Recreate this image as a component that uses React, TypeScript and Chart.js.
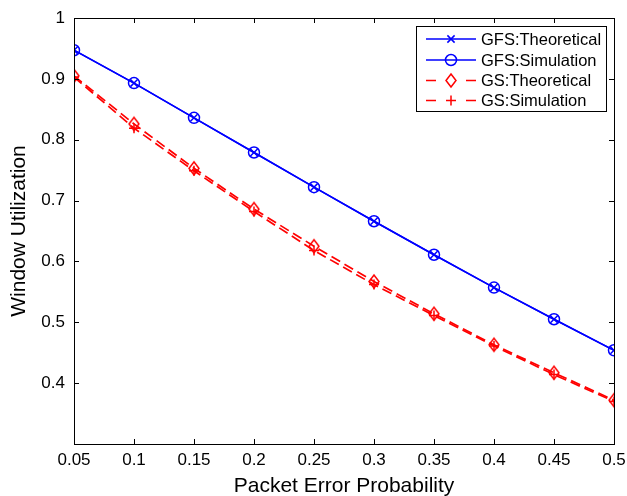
import React, { useEffect, useRef } from "react";
import { Chart, registerables } from "chart.js";

Chart.register(...registerables);

const xValues = [0.05, 0.1, 0.15, 0.2, 0.25, 0.3, 0.35, 0.4, 0.45, 0.5];
const gfsTheoretical = [0.947, 0.893, 0.836, 0.779, 0.722, 0.666, 0.611, 0.557, 0.505, 0.454];
const gfsSimulation = [0.947, 0.893, 0.836, 0.779, 0.722, 0.666, 0.611, 0.557, 0.505, 0.454];
const gsTheoretical = [0.905, 0.826, 0.753, 0.686, 0.625, 0.567, 0.514, 0.463, 0.417, 0.372];
const gsSimulation = [0.903, 0.819, 0.749, 0.682, 0.618, 0.562, 0.511, 0.461, 0.414, 0.37];
const xTicks = [0.05, 0.1, 0.15, 0.2, 0.25, 0.3, 0.35, 0.4, 0.45, 0.5];
const yTicks = [0.4, 0.5, 0.6, 0.7, 0.8, 0.9, 1];
const legendLabels = ["GFS:Theoretical", "GFS:Simulation", "GS:Theoretical", "GS:Simulation"];

const BLUE = "#0000ff";
const RED = "#ff0000";
const FONT = "'Liberation Sans', Arial, Helvetica, sans-serif";

function drawMarker(ctx: CanvasRenderingContext2D, kind: string, x: number, y: number, color: string) {
  ctx.save();
  ctx.strokeStyle = color;
  ctx.lineWidth = 1.5;
  ctx.setLineDash([]);
  ctx.beginPath();
  if (kind === "x") {
    const r = 3.6;
    ctx.moveTo(x - r, y - r); ctx.lineTo(x + r, y + r);
    ctx.moveTo(x - r, y + r); ctx.lineTo(x + r, y - r);
  } else if (kind === "o") {
    ctx.arc(x, y, 5.5, 0, Math.PI * 2);
  } else if (kind === "d") {
    ctx.moveTo(x, y - 6.5); ctx.lineTo(x + 5, y); ctx.lineTo(x, y + 6.5); ctx.lineTo(x - 5, y); ctx.closePath();
  } else if (kind === "+") {
    const r = 5;
    ctx.moveTo(x - r, y); ctx.lineTo(x + r, y);
    ctx.moveTo(x, y - r); ctx.lineTo(x, y + r);
  }
  ctx.stroke();
  ctx.restore();
}

function makeDiamond(): HTMLCanvasElement {
  const c = document.createElement("canvas");
  c.width = 14; c.height = 17;
  const ctx = c.getContext("2d")!;
  drawMarker(ctx, "d", 7, 8.5, RED);
  return c;
}

const boxPlugin = {
  id: "matlabBox",
  afterDatasetsDraw(chart: any) {
    const { ctx, chartArea } = chart;
    const { left, right, top, bottom } = chartArea;
    const xs = chart.scales.x;
    const ys = chart.scales.y;
    ctx.save();
    ctx.strokeStyle = "#000";
    ctx.lineWidth = 1;
    ctx.setLineDash([]);
    ctx.strokeRect(Math.round(left) + 0.5, Math.round(top) + 0.5, Math.round(right - left), Math.round(bottom - top));
    const tl = 5;
    ctx.beginPath();
    xTicks.forEach((v) => {
      const px = Math.round(xs.getPixelForValue(v)) + 0.5;
      ctx.moveTo(px, bottom); ctx.lineTo(px, bottom - tl);
      ctx.moveTo(px, top); ctx.lineTo(px, top + tl);
    });
    yTicks.forEach((v) => {
      const py = Math.round(ys.getPixelForValue(v)) + 0.5;
      ctx.moveTo(left, py); ctx.lineTo(left + tl, py);
      ctx.moveTo(right, py); ctx.lineTo(right - tl, py);
    });
    ctx.stroke();

    // legend
    const lx = 416.5, ly = 26.5, lw = 190, lh = 85;
    ctx.fillStyle = "#fff";
    ctx.fillRect(lx, ly, lw, lh);
    ctx.strokeRect(lx, ly, lw, lh);
    const rows = [39, 60, 80.5, 100.5];
    const kinds = ["x", "o", "d", "+"];
    const colors = [BLUE, BLUE, RED, RED];
    ctx.font = `16.5px ${FONT}`;
    ctx.textBaseline = "middle";
    ctx.textAlign = "left";
    rows.forEach((ry, i) => {
      ctx.strokeStyle = colors[i];
      ctx.lineWidth = 1.5;
      ctx.beginPath();
      if (i < 2) {
        ctx.moveTo(426, ry); ctx.lineTo(476, ry);
      } else {
        ctx.moveTo(426, ry); ctx.lineTo(436, ry);
        ctx.moveTo(466, ry); ctx.lineTo(476, ry);
      }
      ctx.stroke();
      drawMarker(ctx, kinds[i], 451, ry, colors[i]);
      ctx.fillStyle = "#000";
      ctx.fillText(legendLabels[i], 481, ry + 1);
    });
    ctx.restore();
  },
};

export default function App() {
  const ref = useRef<HTMLCanvasElement>(null);
  useEffect(() => {
    if (!ref.current) return;
    const diamond = makeDiamond();
    const toPts = (arr: number[]) => arr.map((y, i) => ({ x: xValues[i], y }));
    const chart = new Chart(ref.current, {
      type: "line",
      data: {
        datasets: [
          {
            label: legendLabels[0], data: toPts(gfsTheoretical), borderColor: BLUE, borderWidth: 1.5,
            pointStyle: "crossRot", pointRadius: 5, pointBorderWidth: 1.5, pointBorderColor: BLUE,
            pointBackgroundColor: "transparent", fill: false, tension: 0,
          },
          {
            label: legendLabels[1], data: toPts(gfsSimulation), borderColor: BLUE, borderWidth: 1.5,
            pointStyle: "circle", pointRadius: 5.5, pointBorderWidth: 1.5, pointBorderColor: BLUE,
            pointBackgroundColor: "transparent", fill: false, tension: 0,
          },
          {
            label: legendLabels[2], data: toPts(gsTheoretical), borderColor: RED, borderWidth: 1.7,
            borderDash: [10, 5], pointStyle: diamond as any, pointRadius: 6,
            pointBackgroundColor: "transparent", fill: false, tension: 0,
          },
          {
            label: legendLabels[3], data: toPts(gsSimulation), borderColor: RED, borderWidth: 1.7,
            borderDash: [10, 5], pointStyle: "cross", pointRadius: 5, pointBorderWidth: 1.5, pointBorderColor: RED,
            pointBackgroundColor: "transparent", fill: false, tension: 0,
          },
        ],
      },
      options: {
        animation: false,
        responsive: false,
        maintainAspectRatio: false,
        layout: { padding: { top: 18, right: 13, left: 0, bottom: 0 } },
        plugins: { legend: { display: false }, tooltip: { enabled: false } },
        scales: {
          x: {
            type: "linear",
            min: 0.05,
            max: 0.5,
            grid: { display: false, drawTicks: false },
            border: { display: false },
            afterBuildTicks: (s: any) => { s.ticks = xTicks.map((v) => ({ value: v })); },
            afterFit: (s: any) => { s.height = 52; s.paddingRight = 0; s.paddingLeft = 0; },
            ticks: {
              padding: 6,
              color: "#000",
              font: { family: FONT, size: 17 },
              maxRotation: 0,
              autoSkip: false,
              callback: (v: any) => String(Number(Number(v).toFixed(2))),
            },
            title: {
              display: true,
              text: "Packet Error Probability",
              color: "#000",
              font: { family: FONT, size: 21, lineHeight: 1 },
              padding: { top: 0, bottom: -1 },
            },
          },
          y: {
            type: "linear",
            min: 0.3,
            max: 1,
            grid: { display: false, drawTicks: false },
            border: { display: false },
            afterBuildTicks: (s: any) => { s.ticks = yTicks.map((v) => ({ value: v })); },
            afterFit: (s: any) => { s.width = 74; s.paddingTop = 0; s.paddingBottom = 0; },
            ticks: {
              padding: 9,
              color: "#000",
              font: { family: FONT, size: 17 },
              autoSkip: false,
              callback: (v: any) => String(Number(Number(v).toFixed(2))),
            },
            title: {
              display: true,
              text: "Window Utilization",
              color: "#000",
              font: { family: FONT, size: 21, lineHeight: 1 },
              padding: { top: 9, bottom: 0 },
            },
          },
        },
      },
      plugins: [boxPlugin],
    });
    return () => chart.destroy();
  }, []);
  return (
    <div style={{ position: "fixed", left: 0, top: 0, width: 627, height: 496, background: "#fff" }}>
      <canvas ref={ref} width={627} height={496} style={{ display: "block", width: 627, height: 496 }} />
    </div>
  );
}
